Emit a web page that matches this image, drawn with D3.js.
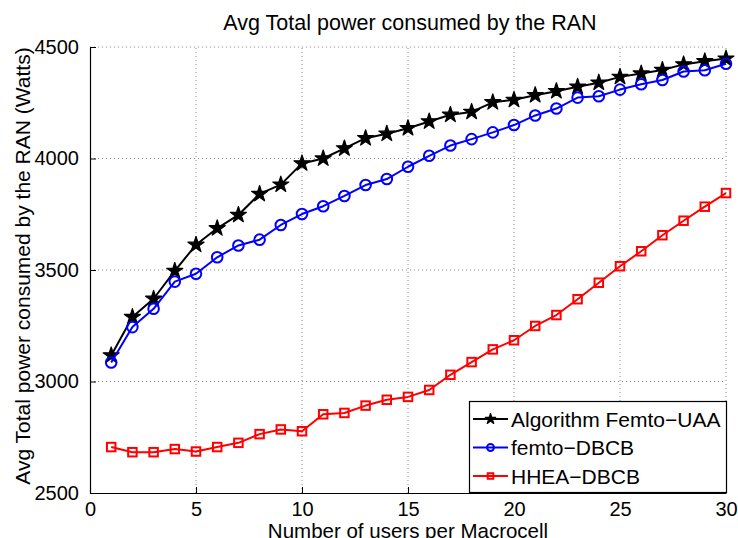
<!DOCTYPE html>
<html>
<head>
<meta charset="utf-8">
<script src="https://cdn.jsdelivr.net/npm/d3@7"></script>
<style>
  html, body { margin: 0; padding: 0; background: #fff; }
  svg { display: block; font-family: "Liberation Sans", Arial, Helvetica, sans-serif; }
</style>
</head>
<body>
<svg id="chart" width="738" height="538"></svg>
<script>
// ---- data ----
const users = [1,2,3,4,5,6,7,8,9,10,11,12,13,14,15,16,17,18,19,20,21,22,23,24,25,26,27,28,29,30];
const femtoUAA = [3117,3289,3371,3496,3613,3687,3747,3841,3883,3978,4000,4045,4091,4111,4136,4166,4196,4209,4252,4263,4284,4302,4322,4340,4366,4381,4397,4422,4436,4448];
const femtoDBCB = [3085,3244,3326,3448,3483,3557,3610,3636,3702,3751,3786,3832,3881,3908,3963,4012,4058,4087,4117,4150,4193,4224,4273,4279,4309,4333,4352,4390,4396,4425];
const hheaDBCB = [2706,2683,2683,2697,2686,2706,2725,2764,2785,2777,2853,2859,2892,2918,2931,2962,3030,3087,3144,3185,3249,3298,3369,3443,3517,3584,3656,3721,3784,3845];
const seriesNames = ["Algorithm Femto\u2212UAA", "femto\u2212DBCB", "HHEA\u2212DBCB"];
const xTicks = [0,5,10,15,20,25,30];
const yTicks = [2500,3000,3500,4000,4500];
const titleText = "Avg Total power consumed by the RAN";
const xLabel = "Number of users per Macrocell";
const yLabel = "Avg Total power consumed by the RAN (Watts)";

// ---- layout ----
const svg = d3.select("#chart");
const L = 90, R = 726, T = 47, B = 493;
const x = d3.scaleLinear().domain([0, 30]).range([L, R]);
const y = d3.scaleLinear().domain([2500, 4500]).range([B, T]);

// grid
const grid = svg.append("g").attr("stroke", "#8a8a8a").attr("stroke-width", 1).attr("stroke-dasharray", "1,3");
xTicks.filter(d => d > 0).forEach(d => {
  grid.append("line").attr("x1", x(d)).attr("x2", x(d)).attr("y1", B).attr("y2", T);
});
yTicks.filter(d => d > 2500).forEach(d => {
  grid.append("line").attr("x1", L).attr("x2", R).attr("y1", y(d)).attr("y2", y(d));
});

// axes (MATLAB-style inward ticks)
const xAxis = d3.axisBottom(x).tickValues(xTicks).tickFormat(d3.format("d")).tickSizeInner(-6).tickSizeOuter(0).tickPadding(9);
const yAxis = d3.axisLeft(y).tickValues(yTicks).tickFormat(d3.format("d")).tickSizeInner(-6).tickSizeOuter(0).tickPadding(11);
const gx = svg.append("g").attr("transform", `translate(0,${B})`).call(xAxis);
const gy = svg.append("g").attr("transform", `translate(${L},0)`).call(yAxis);
[gx, gy].forEach(g => {
  g.select(".domain").attr("stroke", "#000").attr("stroke-width", 1.2);
  g.selectAll(".tick line").attr("stroke", "#000");
  g.selectAll(".tick text").attr("fill", "#000").style("font-size", "20px").style("font-family", "'Liberation Sans', Arial, sans-serif");
});
gx.selectAll(".tick text").attr("dy", "0.71em");

// series
const series = [
  {name: seriesNames[0], values: femtoUAA, color: "#000000", marker: "star"},
  {name: seriesNames[1], values: femtoDBCB, color: "#0000ff", marker: "circle"},
  {name: seriesNames[2], values: hheaDBCB, color: "#ff0000", marker: "square"}
];

function drawMarker(g, type, color, cx, cy, scale) {
  if (type === "star") {
    g.append("path").attr("d", d3.symbol(d3.symbolStar, 80 * scale * scale)())
      .attr("transform", `translate(${cx},${cy})`)
      .attr("fill", color).attr("stroke", color).attr("stroke-width", 1.2).attr("stroke-linejoin", "round");
  } else if (type === "circle") {
    g.append("circle").attr("cx", cx).attr("cy", cy).attr("r", 5.3 * scale)
      .attr("fill", "none").attr("stroke", color).attr("stroke-width", 2);
  } else {
    const s = 8.5 * scale;
    g.append("rect").attr("x", cx - s / 2).attr("y", cy - s / 2).attr("width", s).attr("height", s)
      .attr("fill", "none").attr("stroke", color).attr("stroke-width", 2);
  }
}

const line = d3.line().x((d, i) => x(users[i])).y(d => y(d));
series.forEach(s => {
  const g = svg.append("g");
  g.append("path").datum(s.values).attr("d", line).attr("fill", "none")
    .attr("stroke", s.color).attr("stroke-width", 2).attr("stroke-linejoin", "round");
  s.values.forEach((v, i) => drawMarker(g, s.marker, s.color, x(users[i]), y(v), 1));
});

// legend
const lg = svg.append("g");
lg.append("rect").attr("x", 469.5).attr("y", 401.5).attr("width", 257).attr("height", 91)
  .attr("fill", "#fff").attr("stroke", "#000").attr("stroke-width", 1.2);
const rowY = [419, 447.5, 476];
series.forEach((s, i) => {
  lg.append("line").attr("x1", 473).attr("x2", 508).attr("y1", rowY[i]).attr("y2", rowY[i])
    .attr("stroke", s.color).attr("stroke-width", 2);
  drawMarker(lg, s.marker, s.color, 490.5, rowY[i], 0.65);
  lg.append("text").attr("x", 511).attr("y", rowY[i]).attr("dy", "0.36em")
    .style("font-size", "21px").attr("fill", "#000").text(s.name);
});

// title and labels
svg.append("text").attr("x", 410).attr("y", 30).attr("text-anchor", "middle")
  .style("font-size", "21.5px").attr("fill", "#000").text(titleText);
svg.append("text").attr("x", 408).attr("y", 538).attr("text-anchor", "middle")
  .style("font-size", "20.5px").attr("fill", "#000").text(xLabel);
svg.append("text").attr("transform", "translate(30,266) rotate(-90)").attr("text-anchor", "middle")
  .style("font-size", "21px").attr("fill", "#000").text(yLabel);
</script>
</body>
</html>
